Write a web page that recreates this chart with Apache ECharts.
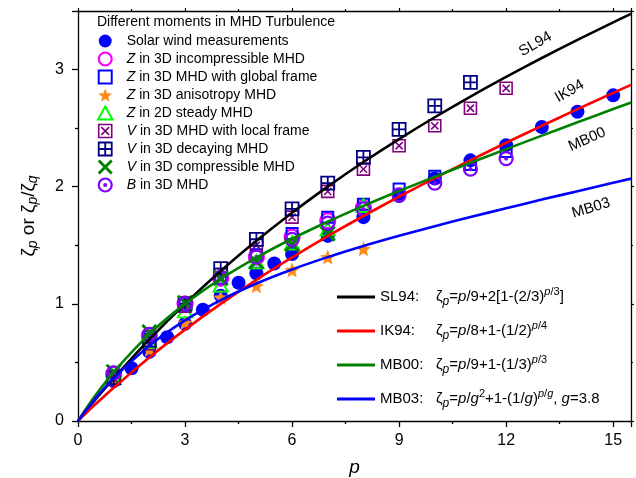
<!DOCTYPE html>
<html>
<head>
<meta charset="utf-8">
<script src="https://cdn.jsdelivr.net/npm/echarts@6/dist/echarts.min.js"></script>
<style>html,body{margin:0;padding:0;background:#fff;}#c{width:636px;height:478px;}</style>
</head>
<body>
<div id="c"></div>
<script>
// ---- data ----
const curveP = [0, 0.25, 0.5, 1, 2, 3, 4, 5, 6, 7, 8, 9, 10, 11, 12, 13, 14, 15, 15.5];
const sl94 = [0, 0.094, 0.186, 0.364, 0.696, 1.000, 1.280, 1.538, 1.778, 2.001, 2.211, 2.407, 2.593, 2.770, 2.938, 3.099, 3.254, 3.403, 3.476];
const ik94 = [0, 0.074, 0.146, 0.284, 0.543, 0.780, 1.000, 1.205, 1.396, 1.578, 1.750, 1.915, 2.073, 2.226, 2.375, 2.520, 2.662, 2.801, 2.869];
const mb00 = [0, 0.115, 0.223, 0.418, 0.742, 1.000, 1.213, 1.395, 1.556, 1.701, 1.836, 1.963, 2.085, 2.204, 2.321, 2.436, 2.550, 2.663, 2.719];
const mb03 = [0, 0.101, 0.196, 0.366, 0.643, 0.859, 1.032, 1.174, 1.294, 1.399, 1.494, 1.581, 1.663, 1.741, 1.816, 1.890, 1.962, 2.034, 2.069];

const solarWind = [[1,0.34],[1.5,0.45],[2,0.59],[2.5,0.715],[3,0.83],[3.5,0.95],[4,1.07],[4.5,1.18],[5,1.26],[5.5,1.345],[6,1.425],[7,1.58],[8,1.74],[9,1.92],[10,2.07],[11,2.225],[12,2.355],[13,2.51],[14,2.64],[15,2.78]];
const zIncomp = [[1,0.40],[2,0.73],[3,1.00],[4,1.22],[5,1.40],[6,1.57],[7,1.71],[8,1.82]];
const zGlobal = [[1,0.38],[2,0.72],[3,0.99],[4,1.22],[5,1.42],[6,1.60],[7,1.74],[8,1.85],[9,1.98],[10,2.09],[11,2.19],[12,2.30]];
const zAniso = [[1,0.36],[2,0.61],[3,0.84],[4,1.055],[5,1.155],[6,1.29],[7,1.40],[8,1.47]];
const z2D = [[1,0.37],[2,0.68],[3,0.94],[4,1.16],[5,1.36],[6,1.52],[7,1.64],[8,1.84]];
const vLocal = [[1,0.36],[2,0.66],[3,0.98],[4,1.25],[5,1.50],[6,1.74],[7,1.96],[8,2.15],[9,2.35],[10,2.52],[11,2.67],[12,2.84]];
const vDecay = [[1,0.37],[2,0.69],[3,1.00],[4,1.30],[5,1.55],[6,1.81],[7,2.03],[8,2.25],[9,2.49],[10,2.69],[11,2.89]];
const vComp = [[1,0.42],[2,0.76],[3,1.01],[4,1.22],[5,1.36],[6,1.51],[7,1.60]];
const bMHD = [[1,0.41],[2,0.74],[3,1.00],[4,1.22],[5,1.40],[6,1.55],[7,1.69],[8,1.81],[9,1.93],[10,2.03],[11,2.15],[12,2.24]];

const xTicks = {min: 0, max: 15.5, interval: 3};
const yTicks = {min: 0, max: 3.5, interval: 1};

// ---- rendering ----
const FONT = 'Liberation Sans, Arial, Helvetica, sans-serif';
const pair = (xs, ys) => xs.map((x, i) => [x, ys[i]]);

const P_CIRCLE = 'path://M0,10A10,10 0 1 1 20,10A10,10 0 1 1 0,10Z';
const P_RECT = 'path://M0,0L20,0L20,20L0,20Z';
const P_STAR = 'path://M10,0L12.6,6.5L19.51,6.91L14.2,11.4L15.88,18.09L10,14.5L4.12,18.09L5.8,11.4L0.49,6.91L7.4,6.5Z';
const P_TRI = 'path://M10,0L20,18L0,18Z';
const P_BOXX = 'path://M0,0L20,0L20,20L0,20Z M4,4L16,16 M16,4L4,16';
const P_BOXPLUS = 'path://M0,0L20,0L20,20L0,20Z M10,0L10,20 M0,10L20,10';
const P_X = 'path://M0,0L20,20 M20,0L0,20';
const P_BDOT = 'path://M0,10A10,10 0 1 1 20,10A10,10 0 1 1 0,10Z M8.5,10A1.5,1.5 0 1 1 11.5,10A1.5,1.5 0 1 1 8.5,10Z';

const T = 'rgba(0,0,0,0)';
function sc(name, data, symbol, size, fill, stroke, bw) {
  return {
    name, type: 'scatter', data, symbol, symbolSize: size,
    itemStyle: {color: fill, borderColor: stroke, borderWidth: bw, opacity: 1},
    emphasis: {disabled: true}
  };
}
function ln(name, ys, color, lab) {
  return {
    name, type: 'line', data: pair(curveP, ys), symbol: 'none', smooth: 0.3,
    lineStyle: {color, width: 2.6}, itemStyle: {color},
    emphasis: {disabled: true},
    markPoint: {
      symbol: 'circle', symbolSize: 0, silent: true,
      label: {show: true, position: 'inside', formatter: lab.text, rotate: lab.rot, color: '#000', fontSize: 15, fontFamily: FONT},
      data: [{coord: lab.at}]
    }
  };
}

const lineLegendText = {
  'SL94': '{lab|SL94:}ζ{sub|p}={i|p}/9+2[1-(2/3){supi|p}{sup|/3}]',
  'IK94': '{lab|IK94:}ζ{sub|p}={i|p}/8+1-(1/2){supi|p}{sup|/4}',
  'MB00': '{lab|MB00:}ζ{sub|p}={i|p}/9+1-(1/3){supi|p}{sup|/3}',
  'MB03': '{lab|MB03:}ζ{sub|p}={i|p}/{i|g}{sup|2}+1-(1/{i|g}){supi|p}{sup|/}{supi|g}, {i|g}=3.8'
};

const markerNames = ['Solar wind measurements','Z in 3D incompressible MHD','Z in 3D MHD with global frame','Z in 3D anisotropy MHD','Z in 2D steady MHD','V in 3D MHD with local frame','V in 3D decaying MHD','V in 3D compressible MHD','B in 3D MHD'];
const lineNames = ['SL94','IK94','MB00','MB03'];

const axisBase = {
  axisLine: {show: true, onZero: false, lineStyle: {color: '#000', width: 1.3}},
  splitLine: {show: false}
};

const option = {
  animation: false,
  backgroundColor: '#fff',
  textStyle: {fontFamily: FONT},
  grid: {left: 78, right: 5, top: 11, bottom: 57, containLabel: false, outerBoundsMode: 'none'},
  title: {
    text: 'Different moments in MHD Turbulence', left: 97, top: 15, padding: 0,
    textStyle: {fontSize: 14, fontWeight: 'normal', color: '#000', fontFamily: FONT}
  },
  legend: [
    {
      data: markerNames, orient: 'vertical', left: 97, top: 33, padding: 0,
      itemWidth: 33, itemHeight: 13, itemGap: 2, selectedMode: false,
      itemStyle: {borderWidth: 'inherit'},
      textStyle: {fontSize: 14, lineHeight: 16, color: '#000', fontFamily: FONT,
        rich: {i: {fontStyle: 'italic', fontSize: 14, fontFamily: FONT, color: '#000'}}},
      formatter: n => /^[ZVB] /.test(n) ? '{i|' + n[0] + '}' + n.slice(1) : n
    },
    {
      data: lineNames.map(n => ({name: n, icon: 'rect'})), orient: 'vertical', left: 337, top: 285, padding: 0,
      itemWidth: 38, itemHeight: 3, itemGap: 10, selectedMode: false,
      textStyle: {fontSize: 15, lineHeight: 24, color: '#000', fontFamily: FONT,
        rich: {
          lab: {width: 56, fontSize: 15, fontFamily: FONT, color: '#000'},
          i: {fontStyle: 'italic', fontSize: 15, fontFamily: FONT, color: '#000'},
          sub: {fontStyle: 'italic', fontSize: 12, fontFamily: FONT, color: '#000', padding: [10, 0, 0, 0]},
          sup: {fontSize: 11, fontFamily: FONT, color: '#000', padding: [0, 0, 11, 0]},
          supi: {fontStyle: 'italic', fontSize: 11, fontFamily: FONT, color: '#000', padding: [0, 0, 11, 0]}
        }},
      formatter: n => lineLegendText[n]
    }
  ],
  xAxis: [
    Object.assign({}, axisBase, {
      type: 'value', position: 'bottom', min: xTicks.min, max: xTicks.max, interval: xTicks.interval,
      axisTick: {show: true, inside: false, length: 6, lineStyle: {color: '#000', width: 1.3}},
      minorTick: {show: true, splitNumber: 2, length: 3, lineStyle: {color: '#000', width: 1.3}},
      axisLabel: {fontSize: 16, color: '#000', margin: 12, fontFamily: FONT, showMaxLabel: false},
      name: 'p', nameLocation: 'middle', nameGap: 37,
      nameTextStyle: {fontStyle: 'italic', fontSize: 19, color: '#000', fontFamily: FONT}
    }),
    Object.assign({}, axisBase, {
      type: 'value', position: 'top', min: xTicks.min, max: xTicks.max, interval: xTicks.interval,
      axisTick: {show: true, inside: false, length: 3, lineStyle: {color: '#000', width: 1.2}},
      minorTick: {show: true, splitNumber: 2, length: 2, lineStyle: {color: '#000', width: 1.2}},
      axisLabel: {show: false}
    })
  ],
  yAxis: [
    Object.assign({}, axisBase, {
      type: 'value', position: 'left', min: yTicks.min, max: yTicks.max, interval: yTicks.interval,
      axisTick: {show: true, inside: false, length: 6, lineStyle: {color: '#000', width: 1.3}},
      minorTick: {show: true, splitNumber: 2, length: 3, lineStyle: {color: '#000', width: 1.3}},
      axisLabel: {fontSize: 16, color: '#000', margin: 14, fontFamily: FONT, showMaxLabel: false},
      name: 'ζ{sub|p} or ζ{sub|p}/ζ{sub|q}', nameLocation: 'middle', nameGap: 38,
      nameTextStyle: {fontSize: 19, color: '#000', fontFamily: FONT,
        rich: {sub: {fontStyle: 'italic', fontSize: 14, fontFamily: FONT, color: '#000', padding: [9, 0, 0, 0]}}}
    }),
    Object.assign({}, axisBase, {
      type: 'value', position: 'right', min: yTicks.min, max: yTicks.max, interval: yTicks.interval,
      axisTick: {show: true, inside: false, length: 3, lineStyle: {color: '#000', width: 1.2}},
      minorTick: {show: true, splitNumber: 2, length: 2, lineStyle: {color: '#000', width: 1.2}},
      axisLabel: {show: false}
    })
  ],
  series: [
    ln('SL94', sl94, '#000000', {text: 'SL94', rot: 30, at: [12.82, 3.217]}),
    ln('IK94', ik94, '#ff0000', {text: 'IK94', rot: 30, at: [13.78, 2.815]}),
    ln('MB00', mb00, '#008000', {text: 'MB00', rot: 24, at: [14.27, 2.403]}),
    ln('MB03', mb03, '#0000ff', {text: 'MB03', rot: 17, at: [14.38, 1.817]}),
    sc(markerNames[0], solarWind, 'circle', 14, '#0000ff', '#0000ff', 0),
    sc(markerNames[1], zIncomp, P_CIRCLE, 15, T, '#ff00ff', 2.2),
    sc(markerNames[2], zGlobal, P_RECT, 11, T, '#0000ff', 2),
    sc(markerNames[3], zAniso, P_STAR, 15, '#ff8c1a', '#ff8c1a', 0),
    sc(markerNames[4], z2D, P_TRI, [14, 13], T, '#00ff00', 2),
    sc(markerNames[5], vLocal, P_BOXX, 12, T, '#800080', 1.6),
    sc(markerNames[6], vDecay, P_BOXPLUS, 13, T, '#000080', 1.8),
    sc(markerNames[7], vComp, P_X, 14, T, '#008000', 3),
    sc(markerNames[8], bMHD, P_BDOT, 13, T, '#8000ff', 2.2)
  ]
};

const chart = echarts.init(document.getElementById('c'), null, {renderer: 'canvas'});
chart.setOption(option);
</script>
</body>
</html>
